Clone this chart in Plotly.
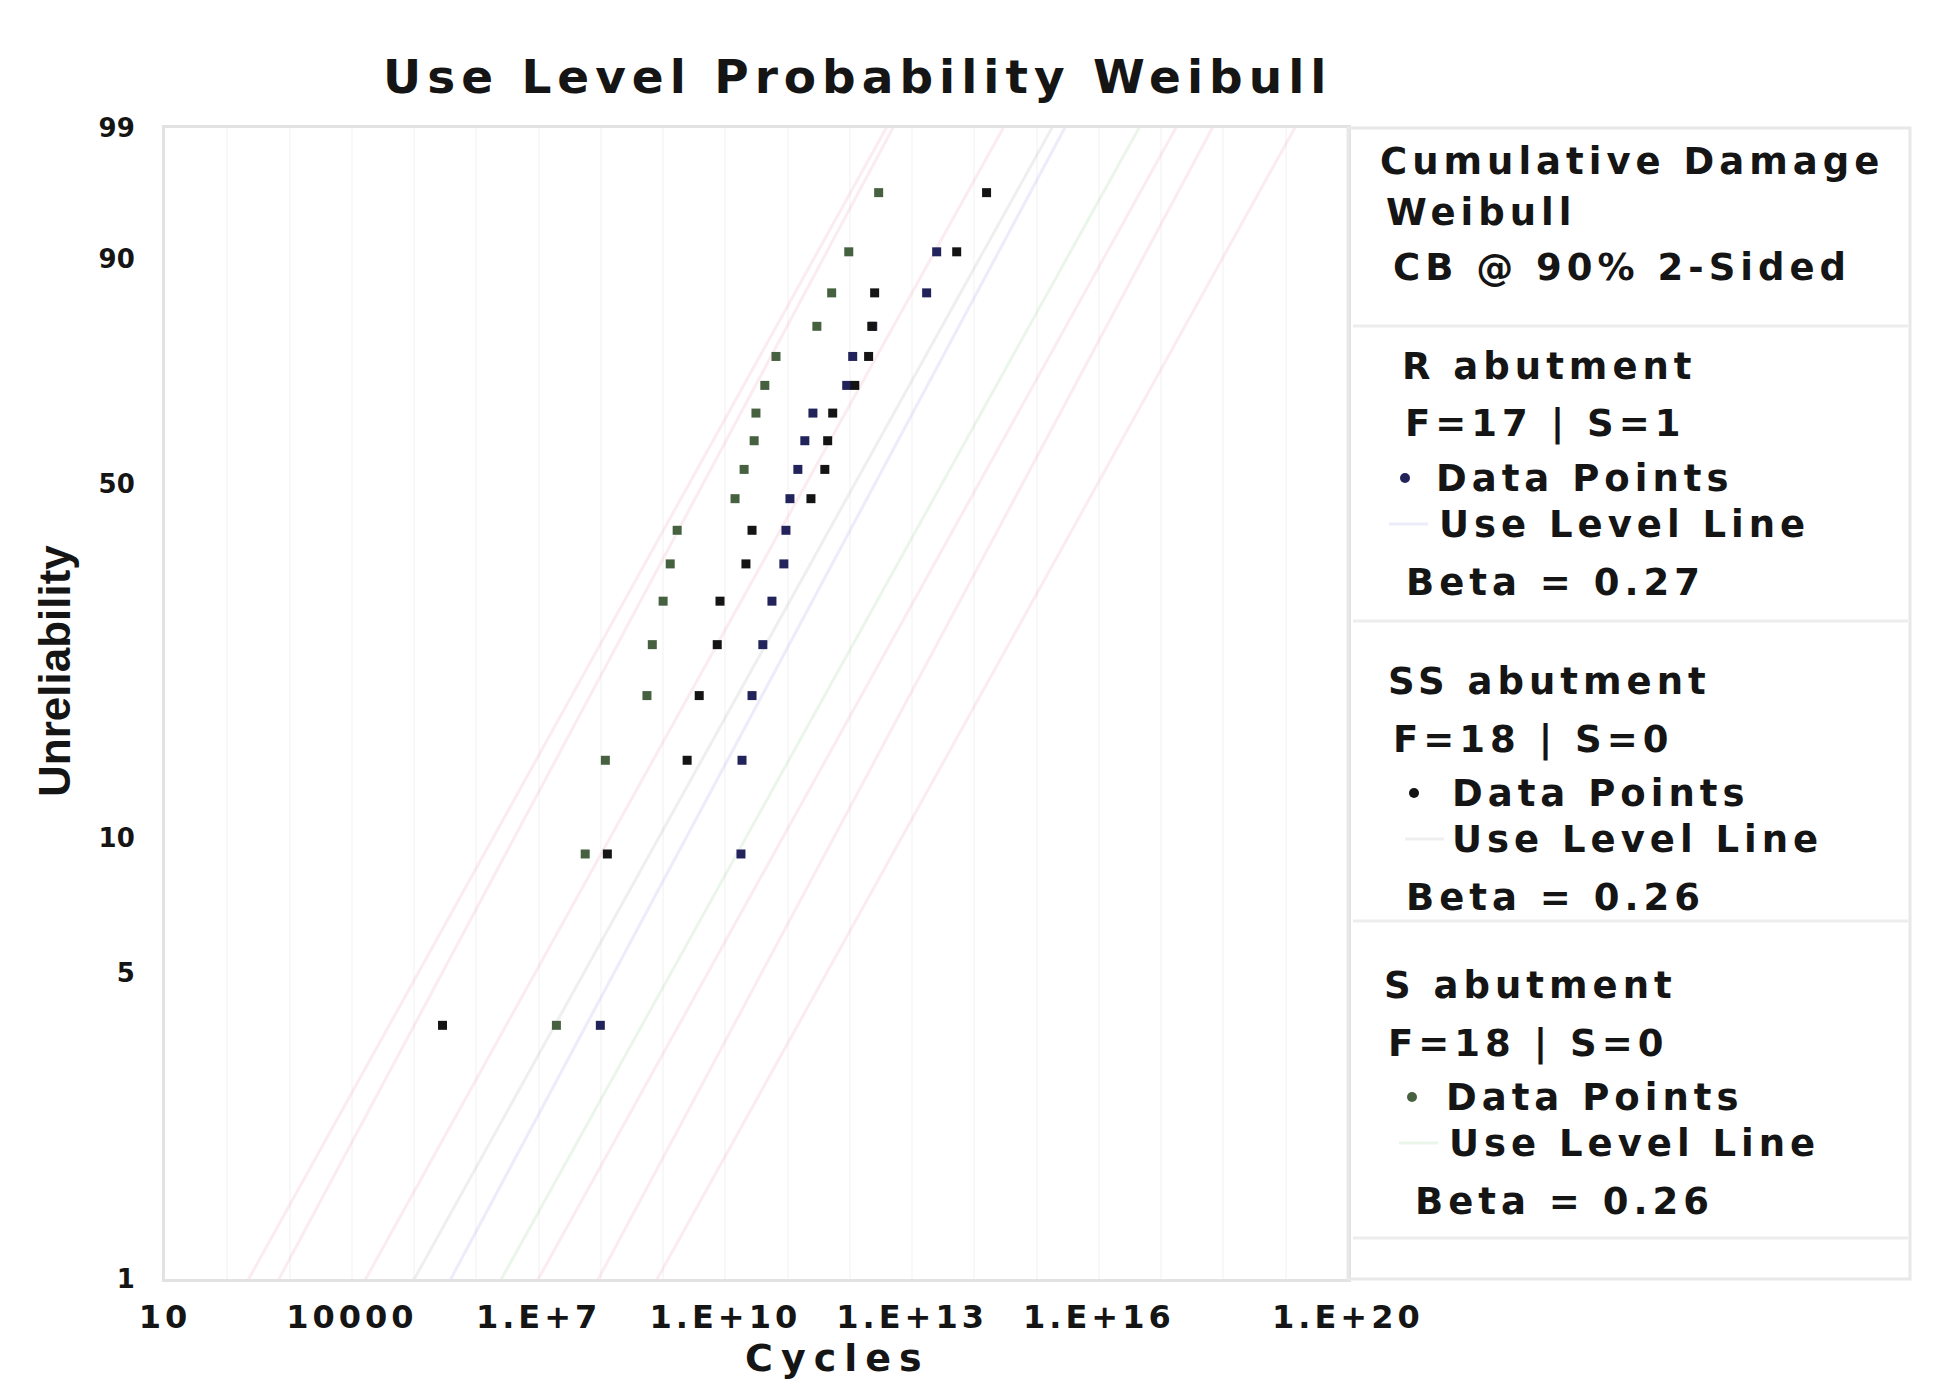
import numpy as np
import plotly.graph_objects as go

# ---------------- data ----------------
# median-rank unreliability (%) of the plotted points
unrel_pct = [3.8, 9.2, 14.7, 20.1, 25.5, 31.0, 36.4, 41.8, 47.3, 52.7,
             58.2, 63.6, 69.0, 74.5, 79.9, 85.3, 90.8, 96.2]

# cycles to failure per data set (sorted)
r_cycles = [9.8e7, 1.78e10, 1.85e10, 2.68e10, 4.0e10, 5.6e10, 8.7e10, 9.4e10,
            1.09e11, 1.46e11, 1.89e11, 2.55e11, 8.9e11, 1.11e12, 2.33e12,
            1.71e13, 2.48e13]
ss_cycles = [2.86e5, 1.27e8, 2.43e9, 3.8e9, 7.4e9, 8.2e9, 2.14e10, 2.68e10,
             2.37e11, 3.96e11, 4.4e11, 5.3e11, 1.2e12, 2.0e12, 2.25e12, 2.5e12,
             5.2e13, 1.57e14]
s_cycles = [1.93e7, 5.6e7, 1.18e8, 5.5e8, 6.7e8, 1.0e9, 1.30e9, 1.68e9,
            1.43e10, 2.0e10, 2.9e10, 3.1e10, 4.3e10, 6.5e10, 2.95e11, 5.1e11,
            9.6e11, 2.9e12]

set_names = ["R abutment", "SS abutment", "S abutment"]
set_fs = ["F=17 | S=1", "F=18 | S=0", "F=18 | S=0"]
betas = [0.27, 0.26, 0.26]
eta_use = [9.8e12, 4.9e12, 1.23e14]
eta_lower = [1.7e10, 1.07e10, 8.1e11]
eta_upper = [2.3e15, 4.8e14, 3.9e16]

x_tick_exp = list(range(1, 21))
x_tick_labels = {1: "10", 4: "10000", 7: "1.E+7", 10: "1.E+10", 13: "1.E+13",
                 16: "1.E+16", 20: "1.E+20"}
y_tick_pct = [1, 5, 10, 50, 90, 99]
y_tick_labels = ["1", "5", "10", "50", "90", "99"]

# ---------------- styling ----------------
pt_colors = ["#23235c", "#141414", "#46613f"]
use_colors = ["rgba(170,170,230,0.22)", "rgba(175,175,175,0.20)", "rgba(165,215,165,0.22)"]
bound_color = "rgba(235,170,192,0.22)"
FONT = "DejaVu Sans"
TXT = "#151515"


def wy(pct):
    p = np.asarray(pct, dtype=float) / 100.0
    return np.log(-np.log(1.0 - p))


def ls(text, sp):
    return f"<span style='letter-spacing:{sp}px'>{text}</span>"


W, H = 1935, 1383
L, R, T, B = 157, 1340, 120, 1271


def px(x):
    return (x - L) / (R - L)


def py(y):
    return (B - y) / (B - T)


fig = go.Figure()

# lines (bounds + use level lines)
line_F = np.array([0.3, 99.7])
for i in range(3):
    for eta, col in ((eta_lower[i], bound_color), (eta_upper[i], bound_color),
                     (eta_use[i], use_colors[i])):
        t = eta * (-np.log(1 - line_F / 100.0)) ** (1.0 / betas[i])
        fig.add_trace(go.Scatter(x=t, y=wy(line_F), mode="lines",
                                 line=dict(color=col, width=3),
                                 hoverinfo="skip", showlegend=False))

# data points
for cyc, col, name in ((r_cycles, pt_colors[0], set_names[0]),
                       (ss_cycles, pt_colors[1], set_names[1]),
                       (s_cycles, pt_colors[2], set_names[2])):
    fig.add_trace(go.Scatter(x=cyc, y=wy(unrel_pct[:len(cyc)]), mode="markers",
                             marker=dict(color=col, size=9, symbol="square"),
                             name=name, showlegend=False))

ytr = wy([1, 99])
fig.update_layout(
    width=W, height=H,
    margin=dict(l=L, r=W - R, t=T, b=H - B),
    paper_bgcolor="white", plot_bgcolor="white",
    showlegend=False,
    xaxis=dict(type="log", range=[0.998, 20.002],
               tickvals=[10.0 ** e for e in x_tick_exp],
               ticktext=[ls(x_tick_labels[e], 4) if e in x_tick_labels else "" for e in x_tick_exp],
               tickfont=dict(family=FONT, size=32, color=TXT, weight="bold"),
               ticks="", ticklabelstandoff=8,
               showgrid=True, gridcolor="#f8f8f8", gridwidth=2,
               showline=True, mirror=True, linecolor="#e2e2e2", linewidth=3,
               zeroline=False),
    yaxis=dict(range=[ytr[0] - 0.002, ytr[1] + 0.002],
               tickvals=list(wy(y_tick_pct)), ticktext=y_tick_labels,
               tickfont=dict(family=FONT, size=26, color=TXT, weight="bold"),
               ticks="", ticklabelstandoff=22,
               showgrid=False,
               showline=True, mirror=True, linecolor="#e2e2e2", linewidth=3,
               zeroline=False),
)

ann = []


def add_text(text, x, y, size, sp=0, xanchor="left", family=FONT, angle=0):
    ann.append(dict(text=ls(text, sp) if sp else text, x=px(x), y=py(y),
                    xref="paper", yref="paper", xanchor=xanchor, yanchor="middle",
                    showarrow=False, textangle=angle,
                    font=dict(family=family, size=size, color=TXT, weight="bold")))


# titles
add_text("Use Level Probability Weibull", 849, 68, 47, 6, xanchor="center")
add_text("Cycles", 829, 1350, 38, 8, xanchor="center")
add_text("Unreliability", 46, 663, 44, 0, xanchor="center",
         family="Liberation Sans", angle=-90)

# legend panel
LS, LSP = 37, 5
add_text("Cumulative Damage", 1370, 154, LS, LSP)
add_text("Weibull", 1376, 204, LS, LSP)
add_text("CB @ 90% 2-Sided", 1383, 259, LS, LSP)

blocks = [
    dict(top=358, name_x=1392, f_x=1395, dot_x=1397, dp_x=1426, ul_x=1429, b_x=1396),
    dict(top=673, name_x=1378, f_x=1383, dot_x=1406, dp_x=1442, ul_x=1442, b_x=1396),
    dict(top=977, name_x=1374, f_x=1378, dot_x=1404, dp_x=1436, ul_x=1439, b_x=1405),
]
offsets = [0, 58, 112, 158, 216]
shapes = []
for i, b in enumerate(blocks):
    y0 = b["top"]
    add_text(set_names[i], b["name_x"], y0 + offsets[0], LS, LSP)
    add_text(set_fs[i], b["f_x"], y0 + offsets[1], LS, LSP)
    add_text("Data Points", b["dp_x"], y0 + offsets[2], LS, LSP)
    add_text("Use Level Line", b["ul_x"], y0 + offsets[3], LS, LSP)
    add_text(f"Beta = {betas[i]:.2f}", b["b_x"], y0 + offsets[4], LS, LSP)
    cx, cy = b["dot_x"], y0 + offsets[2]
    shapes.append(dict(type="circle", xref="paper", yref="paper",
                       x0=px(cx - 5), x1=px(cx + 5), y0=py(cy + 5), y1=py(cy - 5),
                       fillcolor=pt_colors[i], line=dict(width=0)))
    ly = y0 + offsets[3]
    shapes.append(dict(type="line", xref="paper", yref="paper",
                       x0=px(b["dp_x"] - 45), x1=px(b["dp_x"] - 6), y0=py(ly), y1=py(ly),
                       line=dict(color=use_colors[i], width=3)))

# legend frame and separators
shapes.append(dict(type="rect", xref="paper", yref="paper",
                   x0=px(R), x1=px(1902), y0=py(B), y1=py(T),
                   line=dict(color="#e8e8e8", width=3)))
for sy in (318, 613, 913, 1230):
    shapes.append(dict(type="line", xref="paper", yref="paper",
                       x0=px(1345), x1=px(1900), y0=py(sy), y1=py(sy),
                       line=dict(color="#ededed", width=3)))

fig.update_layout(annotations=ann, shapes=shapes)
fig.write_html("out.html")
